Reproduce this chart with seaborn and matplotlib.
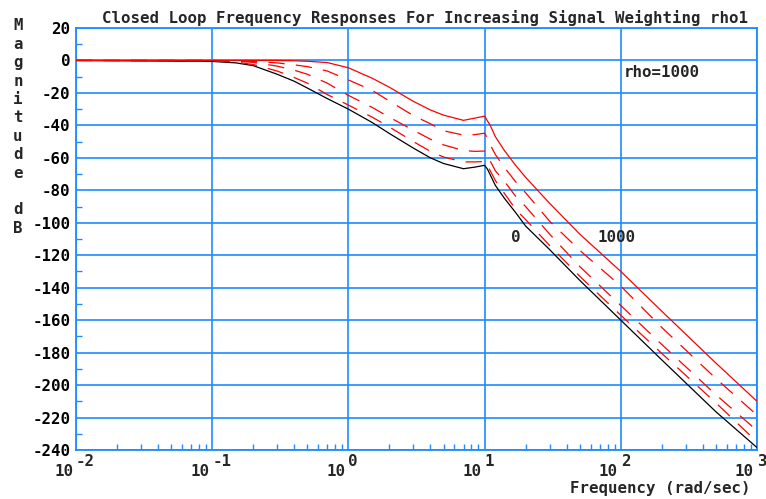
import matplotlib
matplotlib.use("Agg")
import matplotlib.pyplot as plt
import matplotlib.transforms as mtransforms
from matplotlib.ticker import FixedLocator, NullFormatter
import seaborn as sns
import pandas as pd

# ---------------- data ----------------
freq = [0.01, 0.1, 0.15, 0.2, 0.3, 0.4, 0.5, 0.7, 1, 1.5, 2, 3, 4, 5, 7, 8.5,
        10, 10.5, 11, 12, 14, 17, 20, 30, 50, 100, 200, 500, 1000]
mag_rho0 = [0, -0.6, -1.5, -3.2, -8.5, -12.8, -17, -23.5, -30, -38.3, -45, -54, -60,
            -63.5, -66.7, -65.7, -64.6, -67, -70.5, -77, -85, -94, -102, -116.5,
            -135.5, -160, -184.5, -216.5, -238.5]
mag_d3 = [0, -0.3, -1, -2.5, -6.5, -10.5, -14, -21, -27.5, -35, -41, -50, -56, -59.5,
          -62.5, -62.5, -62.3, -64.5, -68, -74, -82, -92, -98, -114, -133, -157,
          -180.5, -211, -235]
mag_d2 = [0, 0, -0.4, -1.2, -3.5, -6, -8.5, -14, -21.5, -29, -35, -43, -48.5, -52,
          -55.5, -56, -55.8, -58, -62, -68, -74.5, -84, -90, -107, -127, -151,
          -175, -206, -228]
mag_d1 = [0, 0, -0.2, -0.6, -1.5, -2.7, -3.8, -6.5, -12, -18.5, -25, -34, -39, -43.3,
          -46, -45.7, -44.8, -48, -52, -58, -66, -75, -81.5, -99, -117, -139,
          -164.5, -196, -218.5]
mag_rho1000 = [0, 0, 0, 0, 0, -0.2, -0.5, -1.3, -4.5, -11, -16.5, -25.2, -30.5, -33.7,
               -36.9, -35.5, -34.3, -37.3, -40, -47, -55.6, -64.9, -72, -88, -107,
               -130, -154.5, -186.5, -210]

y_ticks = list(range(-240, 21, 20))
x_decades = [0.01, 0.1, 1, 10, 100, 1000]
x_exponents = ["-2", "-1", "0", "1", "2", "3"]
title = "Closed Loop Frequency Responses For Increasing Signal Weighting rho1"
ylabel_chars = ["M", "a", "g", "n", "i", "t", "u", "d", "e", "", "d", "B"]
xlabel = "Frequency (rad/sec)"

# ---------------- style ----------------
sns.set_style("white")
plt.rcParams["font.family"] = ["DejaVu Sans Mono"]
plt.rcParams["font.weight"] = "bold"
plt.rcParams["axes.unicode_minus"] = False

W, H = 766, 499
fig = plt.figure(figsize=(W / 100, H / 100), dpi=100)
L, R, T, B = 76, 757, 28, 450
ax = fig.add_axes([L / W, 1 - B / H, (R - L) / W, (B - T) / H])
ax.set_xscale("log")
ax.set_xlim(0.01, 1000)
ax.set_ylim(-240, 20)

blue = "#1E8CFF"
fs = 11.3

ax.set_yticks(y_ticks)
ax.set_yticks(list(range(-230, 20, 20)), minor=True)
ax.xaxis.set_major_locator(FixedLocator(x_decades))
minors = [m * d for d in x_decades[:-1] for m in range(2, 10)]
ax.xaxis.set_minor_locator(FixedLocator(minors))
ax.xaxis.set_major_formatter(NullFormatter())
ax.xaxis.set_minor_formatter(NullFormatter())
ax.grid(True, which="major", color=blue, lw=1.2, zorder=0)
ax.set_axisbelow(True)
for s in ax.spines.values():
    s.set_color(blue)
    s.set_linewidth(1.3)
ax.tick_params(axis="both", which="major", length=0, labelsize=fs, pad=4,
               labelcolor="black")
ax.tick_params(axis="both", which="minor", direction="in", length=4.5,
               width=1.0, color=blue)
ax.tick_params(axis="x", which="minor", top=False, bottom=True)
ax.tick_params(axis="y", which="minor", left=True, right=False)
for lab in ax.get_yticklabels():
    lab.set_fontweight("bold")

df = pd.DataFrame({"freq": freq, "r0": mag_rho0, "d3": mag_d3, "d2": mag_d2,
                   "d1": mag_d1, "r1000": mag_rho1000})
sns.lineplot(data=df, x="freq", y="r0", ax=ax, color="black", lw=0.9, zorder=3)
for col in ["d3", "d2", "d1"]:
    sns.lineplot(data=df, x="freq", y=col, ax=ax, color="#FF0000", lw=0.9,
                 dashes=False, zorder=3).lines[-1].set_dashes((13, 9))
sns.lineplot(data=df, x="freq", y="r1000", ax=ax, color="#FF0000", lw=0.9, zorder=4)
ax.set_xlabel("")
ax.set_ylabel("")

# annotations
ax.text(106, -7.2, "rho=1000", fontsize=fs, fontweight="bold", va="center", ha="left")
ax.text(15.6, -109, "0", fontsize=fs, fontweight="bold", va="center", ha="left")
ax.text(68, -109, "1000", fontsize=fs, fontweight="bold", va="center", ha="left")

# x tick labels as 10 with raised exponent
trans = mtransforms.blended_transform_factory(ax.transData, fig.transFigure)
for d, e in zip(x_decades, x_exponents):
    ax.text(d, 1 - 472 / H, "10", transform=trans + mtransforms.ScaledTranslation(-3 / 100, 0, fig.dpi_scale_trans),
            ha="right", va="center", fontsize=fs, fontweight="bold", clip_on=False)
    ax.text(d, 1 - 462 / H, e, transform=trans,
            ha="left", va="center", fontsize=fs, fontweight="bold", clip_on=False)

fig.text(425 / W, 1 - 18 / H, title, ha="center", va="center", fontsize=fs,
         fontweight="bold")
fig.text(750 / W, 1 - 489 / H, xlabel, ha="right", va="center", fontsize=fs,
         fontweight="bold")
for i, ch in enumerate(ylabel_chars):
    if ch:
        fig.text(18 / W, 1 - (26 + 18.4 * i) / H, ch, ha="center", va="center",
                 fontsize=fs, fontweight="bold")

fig.savefig("out.png", dpi=100, facecolor="white")
